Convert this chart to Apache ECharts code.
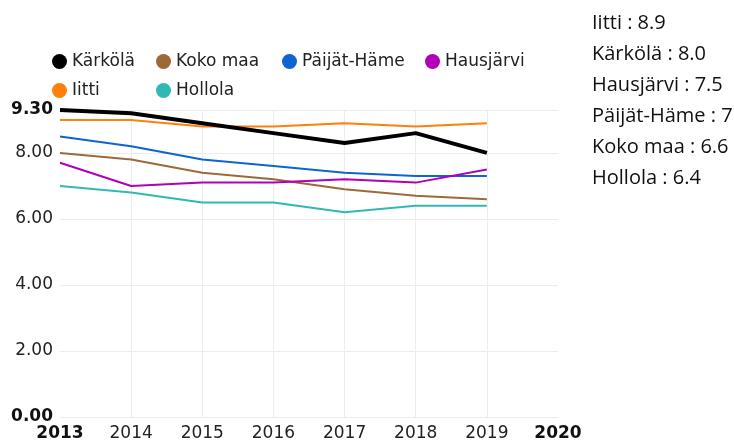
<!DOCTYPE html>
<html>
<head>
<meta charset="utf-8">
<script src="https://cdn.jsdelivr.net/npm/echarts@6/dist/echarts.min.js"></script>
<style>
  html, body { margin: 0; padding: 0; background: #fff; }
  #chart { width: 734px; height: 444px; }
</style>
</head>
<body>
<div id="chart"></div>
<script>
// vuodet
var years = [2013, 2014, 2015, 2016, 2017, 2018, 2019]
// sarjat
var names = ['Kärkölä', 'Koko maa', 'Päijät-Häme', 'Hausjärvi', 'Iitti', 'Hollola']
var karkola = [9.3, 9.2, 8.9, 8.6, 8.3, 8.6, 8.0]
var kokoMaa = [8.0, 7.8, 7.4, 7.2, 6.9, 6.7, 6.6]
var paijatHame = [8.5, 8.2, 7.8, 7.6, 7.4, 7.3, 7.3]
var hausjarvi = [7.7, 7.0, 7.1, 7.1, 7.2, 7.1, 7.5]
var iitti = [9.0, 9.0, 8.8, 8.8, 8.9, 8.8, 8.9]
var hollola = [7.0, 6.8, 6.5, 6.5, 6.2, 6.4, 6.4]
var colors = ['#000000', '#9c6a3a', '#0f64d2', '#b000b8', '#ff7f0e', '#30b9b3']
// oikean reunan lista
var sideNames = ['Iitti', 'Kärkölä', 'Hausjärvi', 'Päijät-Häme', 'Koko maa', 'Hollola']
var sideValues = [8.9, 8.0, 7.5, 7.3, 6.6, 6.4]

var values = [karkola, kokoMaa, paijatHame, hausjarvi, iitti, hollola]
// legendan paikat (taulukko)
var legendLeft = [52, 156, 282, 425, 52, 156]
var legendTop = [53, 53, 53, 53, 82, 82]

var series = []
for (var i = 0; i < names.length; i++) {
  var pts = []
  for (var j = 0; j < years.length; j++) {
    pts.push([years[j], values[i][j]])
  }
  series.push({
    name: names[i],
    type: 'line',
    data: pts,
    symbol: 'none',
    z: i == 0 ? 5 : 2,
    lineStyle: { width: i == 0 ? 4 : 2, color: colors[i] },
    itemStyle: { color: colors[i] }
  })
}

var legends = []
for (var i = 0; i < names.length; i++) {
  legends.push({
    data: [names[i]],
    left: legendLeft[i],
    top: legendTop[i],
    icon: 'circle',
    itemWidth: 15,
    itemHeight: 15,
    padding: 0,
    textStyle: { fontFamily: 'DejaVu Sans', fontSize: 17, color: '#222' }
  })
}

var graphics = []
for (var i = 0; i < sideNames.length; i++) {
  graphics.push({
    type: 'text',
    x: 592,
    y: 23 + i * 31,
    style: {
      text: sideNames[i] + ' : ' + sideValues[i].toFixed(1),
      font: '20px "Open Sans"',
      fill: '#111',
      verticalAlign: 'middle'
    }
  })
}

var chart = echarts.init(document.getElementById('chart'))
var option = {
  animation: false,
  color: colors,
  legend: legends,
  grid: { left: 60, right: 176, top: 110, bottom: 27 },
  xAxis: {
    type: 'value',
    min: 2013,
    max: 2020,
    interval: 1,
    axisLine: { show: false },
    axisTick: { show: false },
    splitLine: { show: true, showMinLine: false, showMaxLine: false, lineStyle: { color: '#ececec' } },
    axisLabel: {
      margin: 8,
      fontFamily: 'DejaVu Sans',
      fontSize: 17,
      color: '#222',
      formatter: function (v) {
        return (v == 2013 || v == 2020) ? '{b|' + v + '}' : String(v)
      },
      rich: { b: { fontFamily: 'DejaVu Sans', fontSize: 17, fontWeight: 'bold', color: '#111' } }
    }
  },
  yAxis: {
    type: 'value',
    min: 0,
    max: 9.3,
    interval: 2,
    axisLine: { show: false },
    axisTick: { show: false },
    splitLine: { lineStyle: { color: '#ececec' } },
    axisLabel: {
      margin: 7,
      fontFamily: 'DejaVu Sans',
      fontSize: 17,
      color: '#222',
      showMaxLabel: true,
      formatter: function (v) {
        return (v == 0 || v == 9.3) ? '{b|' + v.toFixed(2) + '}' : v.toFixed(2)
      },
      rich: { b: { fontFamily: 'DejaVu Sans', fontSize: 17, fontWeight: 'bold', color: '#111' } }
    }
  },
  graphic: graphics,
  series: series
}
chart.setOption(option)
</script>
</body>
</html>
